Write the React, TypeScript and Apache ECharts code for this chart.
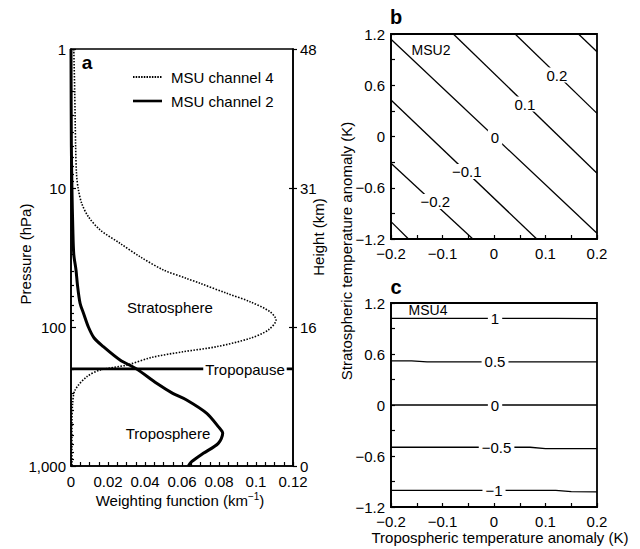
import React, { useEffect, useRef } from 'react';
import * as echarts from 'echarts';

// ---------- Panel a: weighting functions ----------
const pressureLabelTicks = [1, 10, 100, 1000];
const heightLabels: Record<string, string> = { '1': '48', '10': '31', '100': '16', '1000': '0' };
const minorPressureTicks = [2, 3, 4, 5, 6, 7, 8, 9, 20, 30, 40, 50, 60, 70, 80, 90, 200, 300, 400, 500, 600, 700, 800, 900];

const ch4Pressure = [1, 2, 5, 8, 10.3, 12.9, 16.1, 20, 25, 31.2, 38.9, 44.7, 48.5, 57.2, 65.8, 77.6, 89, 105, 120.6, 138.6, 150.6, 165, 188, 204, 228, 284, 352, 500, 1000];
const ch4Weight = [0.0015, 0.002, 0.0025, 0.003, 0.004, 0.0058, 0.0094, 0.0157, 0.0265, 0.0373, 0.05, 0.0625, 0.0697, 0.0842, 0.0968, 0.1076, 0.1108, 0.1067, 0.0968, 0.0787, 0.0607, 0.044, 0.03, 0.0157, 0.0085, 0.0022, 0.0009, 0.0005, 0.0005];

const ch2Pressure = [1, 5, 10, 20, 30, 38.9, 50, 67.5, 80, 100, 120, 138.6, 172.8, 200.5, 254, 300, 335, 418, 521, 582, 687, 811, 931, 1000];
const ch2Weight = [0, 0.0002, 0.0005, 0.001, 0.0015, 0.0027, 0.0035, 0.0049, 0.0068, 0.0094, 0.0125, 0.0175, 0.0265, 0.0355, 0.0463, 0.055, 0.0625, 0.0734, 0.0796, 0.082, 0.0796, 0.0715, 0.0652, 0.0634];

const tropopausePressure = 200;
const weightRange = [0, 0.12];

// ---------- Panel b: MSU2 contours ----------
const msu2Lines = [
  [[0.164, 1.2], [0.2, 0.993]],
  [[0.041, 1.2], [0.2, 0.271]],
  [[-0.079, 1.2], [0.2, -0.431]],
  [[-0.2, 1.138], [0.2, -1.133]],
  [[-0.2, 0.427], [0.083, -1.2]],
  [[-0.2, -0.314], [-0.041, -1.2]],
  [[-0.2, -0.997], [-0.166, -1.2]],
];
const msu2LabelTexts = ['0.2', '0.1', '0', '\u22120.1', '\u22120.2'];
const msu2LabelPoints = [[0.122, 0.72], [0.06, 0.38], [0.002, -0.01], [-0.053, -0.41], [-0.114, -0.76]];

// ---------- Panel c: MSU4 contours ----------
const msu4Lines = [
  [[-0.2, 1.02], [0.12, 1.02], [0.2, 1.015]],
  [[-0.2, 0.52], [-0.16, 0.52], [-0.13, 0.507], [0.2, 0.507]],
  [[-0.2, 0], [0.2, 0]],
  [[-0.2, -0.497], [0.07, -0.497], [0.1, -0.513], [0.2, -0.513]],
  [[-0.2, -1.005], [0.12, -1.005], [0.15, -1.02], [0.2, -1.022]],
];
const msu4LabelTexts = ['1', '0.5', '0', '\u22120.5', '\u22121'];
const msu4LabelPoints = [[0.002, 1.02], [0.002, 0.51], [0.002, 0], [0.005, -0.5], [0.0, -1.008]];

const anomalyXRange = [-0.2, 0.2];
const anomalyYRange = [-1.2, 1.2];

const FONT = '"Liberation Sans", Arial, Helvetica, sans-serif';
const BLACK = '#000';

function fmtNum(v: number) {
  const s = String(parseFloat(Math.abs(v).toFixed(3)));
  return v < -1e-9 ? '\u2212' + s : s;
}

export default function App() {
  const ref = useRef<HTMLDivElement>(null);
  useEffect(() => {
    if (!ref.current) return;
    const chart = echarts.init(ref.current, null, { renderer: 'svg' });
    const axisLine = { show: true, onZero: false, lineStyle: { color: BLACK, width: 1.6 } };
    const tickStyle = { color: BLACK, width: 1.2 };
    const labelBase = { color: BLACK, fontSize: 15, fontFamily: FONT };

    const anomalyX = (gridIndex: number) => ({
      gridIndex,
      type: 'value',
      min: anomalyXRange[0],
      max: anomalyXRange[1],
      interval: 0.1,
      axisLine,
      axisTick: { show: true, inside: true, length: 4, lineStyle: tickStyle },
      minorTick: { show: true, splitNumber: 2, length: 4, lineStyle: tickStyle },
      splitLine: { show: false },
      axisLabel: { ...labelBase, margin: 7, formatter: (v: number) => fmtNum(v) },
    });
    const anomalyY = (gridIndex: number) => ({
      gridIndex,
      type: 'value',
      min: anomalyYRange[0],
      max: anomalyYRange[1],
      interval: 0.6,
      axisLine,
      axisTick: { show: true, inside: true, length: 4, lineStyle: tickStyle },
      minorTick: { show: true, splitNumber: 2, length: 4, lineStyle: tickStyle },
      splitLine: { show: false },
      axisLabel: { ...labelBase, margin: 6, formatter: (v: number) => fmtNum(v) },
    });

    const contourSeries = (lines: number[][][], xi: number, yi: number) =>
      lines.map((pts) => ({
        type: 'line',
        xAxisIndex: xi,
        yAxisIndex: yi,
        data: pts,
        symbol: 'none',
        silent: true,
        z: 2,
        lineStyle: { color: BLACK, width: 1.3 },
      }));

    const logAxisBase = {
      gridIndex: 0,
      type: 'log',
      logBase: 10,
      min: 1,
      max: 1000,
      inverse: true,
      splitLine: { show: false },
      minorTick: { show: false },
    };

    const txt = (x: number, y: number, text: string, extra: any = {}, rot = 0) => ({
      type: 'text',
      x,
      y,
      rotation: rot,
      z: 100,
      silent: true,
      style: {
        text,
        fill: BLACK,
        fontSize: 15,
        fontFamily: FONT,
        align: 'center',
        verticalAlign: 'middle',
        ...extra,
      },
    });

    chart.setOption({
      animation: false,
      textStyle: { fontFamily: FONT },
      grid: [
        { left: 71, top: 49, width: 222, height: 417, show: true, borderColor: BLACK, borderWidth: 1.6, backgroundColor: 'transparent' },
        { left: 391, top: 34, width: 206, height: 205, show: true, borderColor: BLACK, borderWidth: 1.8, backgroundColor: 'transparent' },
        { left: 391, top: 303, width: 206, height: 204, show: true, borderColor: BLACK, borderWidth: 1.8, backgroundColor: 'transparent' },
      ],
      xAxis: [
        {
          gridIndex: 0,
          type: 'value',
          min: weightRange[0],
          max: weightRange[1],
          interval: 0.02,
          axisLine,
          axisTick: { show: true, inside: true, length: 4, lineStyle: tickStyle },
          minorTick: { show: true, splitNumber: 4, length: 4, lineStyle: tickStyle },
          splitLine: { show: false },
          axisLabel: { ...labelBase, margin: 8, formatter: (v: number) => fmtNum(v) },
        },
        anomalyX(1),
        anomalyX(2),
      ],
      yAxis: [
        {
          ...logAxisBase,
          position: 'left',
          axisLine,
          axisTick: { show: true, inside: true, length: 5, lineStyle: tickStyle, customValues: pressureLabelTicks },
          axisLabel: {
            ...labelBase,
            margin: 5,
            customValues: pressureLabelTicks,
            formatter: (v: number) => (v >= 1000 ? '1,000' : String(Math.round(v))),
          },
        },
        {
          ...logAxisBase,
          position: 'left',
          axisLine: { show: false },
          axisTick: { show: true, inside: true, length: 3, lineStyle: tickStyle, customValues: minorPressureTicks },
          axisLabel: { show: false },
        },
        {
          ...logAxisBase,
          position: 'right',
          axisLine,
          axisTick: { show: true, inside: false, length: 4, lineStyle: tickStyle, customValues: pressureLabelTicks },
          axisLabel: {
            ...labelBase,
            margin: 7,
            customValues: pressureLabelTicks,
            formatter: (v: number) => heightLabels[String(Math.round(v))] ?? '',
          },
        },
        {
          ...logAxisBase,
          position: 'right',
          axisLine: { show: false },
          axisTick: { show: true, inside: true, length: 4, lineStyle: tickStyle, customValues: [10, 100] },
          axisLabel: { show: false },
        },
        anomalyY(1),
        anomalyY(2),
      ],
      series: [
        {
          type: 'line',
          name: 'MSU channel 4',
          xAxisIndex: 0,
          yAxisIndex: 0,
          data: ch4Pressure.map((p, i) => [ch4Weight[i], p]),
          symbol: 'none',
          smooth: 0.3,
          silent: true,
          z: 3,
          lineStyle: { color: BLACK, width: 1.6, type: [1.5, 1.5] },
        },
        {
          type: 'line',
          name: 'MSU channel 2',
          xAxisIndex: 0,
          yAxisIndex: 0,
          data: ch2Pressure.map((p, i) => [ch2Weight[i], p]),
          symbol: 'none',
          smooth: 0.3,
          silent: true,
          z: 4,
          lineStyle: { color: BLACK, width: 3 },
        },
        {
          type: 'line',
          name: 'Tropopause',
          xAxisIndex: 0,
          yAxisIndex: 0,
          data: [[weightRange[0], tropopausePressure], [weightRange[1], tropopausePressure]],
          symbol: 'none',
          silent: true,
          z: 4,
          lineStyle: { color: BLACK, width: 2.6 },
        },
        ...contourSeries(msu2Lines, 1, 4),
        ...contourSeries(msu4Lines, 2, 5),
      ],
    });

    const contourLabels = (points: number[][], texts: string[], gridIndex: number) =>
      points.map((pt, i) => {
        const px = chart.convertToPixel({ gridIndex } as any, pt) as number[];
        return txt(px[0], px[1], texts[i], { backgroundColor: '#fff', padding: [0, 3] });
      });

    chart.setOption({
      graphic: [
        // panel letters
        txt(87, 62, 'a', { fontSize: 19, fontWeight: 'bold' }),
        txt(396, 17, 'b', { fontSize: 20, fontWeight: 'bold' }),
        txt(396, 287, 'c', { fontSize: 20, fontWeight: 'bold' }),
        // legend
        { type: 'line', z: 100, silent: true, shape: { x1: 133, y1: 77, x2: 162, y2: 77 }, style: { stroke: BLACK, lineWidth: 2, lineDash: [1.5, 1.2] } },
        txt(171, 77, 'MSU channel 4', { align: 'left' }),
        { type: 'line', z: 100, silent: true, shape: { x1: 133, y1: 101, x2: 162, y2: 101 }, style: { stroke: BLACK, lineWidth: 2.6 } },
        txt(171, 101, 'MSU channel 2', { align: 'left' }),
        // annotations
        txt(170, 307, 'Stratosphere'),
        txt(168, 433, 'Troposphere'),
        txt(245, 369, 'Tropopause', { backgroundColor: '#fff', padding: [0, 2] }),
        txt(431, 50, 'MSU2', { fontSize: 14 }),
        txt(428, 310, 'MSU4', { fontSize: 14 }),
        ...contourLabels(msu2LabelPoints, msu2LabelTexts, 1),
        ...contourLabels(msu4LabelPoints, msu4LabelTexts, 2),
        // axis titles
        txt(25, 254, 'Pressure (hPa)', {}, Math.PI / 2),
        txt(318, 237, 'Height (km)', {}, Math.PI / 2),
        txt(180, 500, '{a|Weighting function (km}{b|\u22121}{a|)}', {
          rich: {
            a: { fontSize: 15, fontFamily: FONT, fill: BLACK },
            b: { fontSize: 10, fontFamily: FONT, fill: BLACK, padding: [0, 0, 8, 0] },
          },
        }),
        txt(346, 251, 'Stratospheric temperature anomaly (K)', {}, Math.PI / 2),
        txt(500, 537, 'Tropospheric temperature anomaly (K)'),
      ],
    });
    return () => chart.dispose();
  }, []);
  return <div ref={ref} style={{ position: 'absolute', left: 0, top: 0, width: 640, height: 549, background: '#fff' }} />;
}
